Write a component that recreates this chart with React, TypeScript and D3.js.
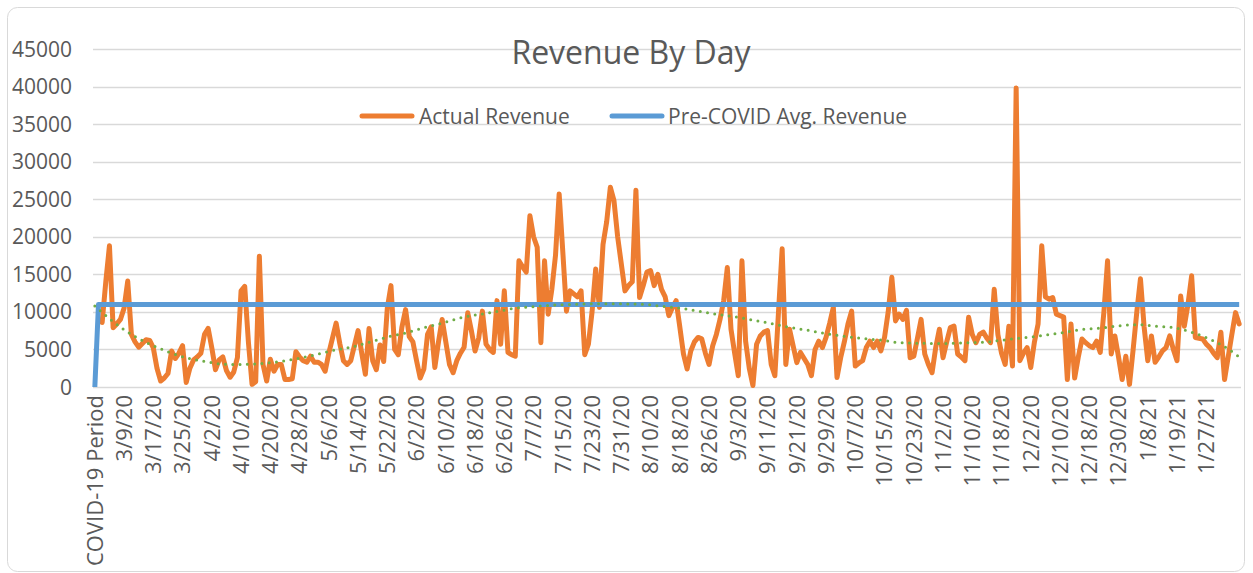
import React from 'react';
import * as d3 from 'd3';

// tick labels shown on the category axis (every 8th category)
const xTickLabels = [
  'COVID-19 Period', '3/9/20', '3/17/20', '3/25/20', '4/2/20', '4/10/20', '4/20/20', '4/28/20',
  '5/6/20', '5/14/20', '5/22/20', '6/2/20', '6/10/20', '6/18/20', '6/26/20', '7/7/20',
  '7/15/20', '7/23/20', '7/31/20', '8/10/20', '8/18/20', '8/26/20', '9/3/20', '9/11/20',
  '9/21/20', '9/29/20', '10/7/20', '10/15/20', '10/23/20', '11/2/20', '11/10/20', '11/18/20',
  '12/2/20', '12/10/20', '12/18/20', '12/30/20', '1/8/21', '1/19/21', '1/27/21',
];
const labelStep = 8;

const yTicks = [0, 5000, 10000, 15000, 20000, 25000, 30000, 35000, 40000, 45000];

// daily revenue, one value per category (first two categories empty)
const actualRevenue: (number | null)[] = [
  null, null, 8600, 14000, 18800, 7900, 8400, 9000, 10500, 14100, // 0
  7000, 6000, 5300, 5800, 6300, 6200, 5200, 2500, 800, 1200, // 10
  1800, 4800, 3800, 4500, 5500, 600, 2500, 3600, 4000, 4500, // 20
  7000, 7800, 5200, 2300, 3600, 4000, 2200, 1300, 2000, 3900, // 30
  12800, 13400, 6000, 350, 700, 17400, 3000, 800, 3700, 2100, // 40
  3000, 3000, 1000, 1000, 1100, 4700, 4000, 3500, 3300, 4100, // 50
  3300, 3300, 3000, 2100, 4500, 6500, 8500, 5800, 3500, 3000, // 60
  3500, 5500, 7500, 4500, 1700, 7800, 3500, 2300, 5600, 3400, // 70
  10500, 13500, 5000, 4300, 8000, 10300, 6700, 6000, 3500, 1200, // 80
  2400, 7000, 8000, 2600, 6000, 9000, 6000, 3000, 1900, 3500, // 90
  4500, 5300, 9900, 7500, 4800, 6500, 10100, 5700, 5000, 4600, // 100
  11500, 5700, 12800, 4600, 4300, 4100, 16800, 16000, 15300, 22800, // 110
  20000, 18600, 5900, 16800, 9700, 13000, 17500, 25700, 18000, 10100, // 120
  12800, 12400, 12000, 12800, 4300, 5700, 10000, 15700, 10600, 19000, // 130
  22000, 26600, 24800, 20000, 16400, 12800, 13500, 14000, 26200, 11900, // 140
  13500, 15300, 15500, 13500, 15000, 13000, 12000, 9500, 10600, 11500, // 150
  8000, 4400, 2400, 4800, 6000, 6600, 6400, 4500, 3000, 5500, // 160
  7000, 9000, 11500, 15900, 7700, 4500, 1500, 16800, 6100, 2500, // 170
  200, 5700, 6800, 7300, 7500, 3000, 1500, 10000, 18400, 3000, // 180
  7700, 5500, 3250, 4600, 3800, 3000, 1500, 5000, 6100, 5250, // 190
  6600, 8500, 10600, 1250, 3900, 6000, 8400, 10100, 2800, 3200, // 200
  3500, 5250, 6100, 5250, 6100, 4800, 6600, 10000, 14600, 8800, // 210
  9700, 9000, 10200, 3900, 4100, 6500, 9000, 4400, 3000, 1900, // 220
  5250, 7700, 3900, 6000, 7900, 8100, 4400, 4000, 3500, 9300, // 230
  7000, 5900, 7000, 7300, 6500, 5900, 13000, 7000, 4500, 3000, // 240
  8100, 2800, 39800, 3500, 4500, 5250, 2600, 6000, 8400, 18800, // 250
  12000, 11700, 11900, 9700, 9500, 9300, 1000, 8400, 1200, 4000, // 260
  6400, 5900, 5500, 5250, 6100, 4600, 10000, 16800, 4400, 6800, // 270
  4000, 1000, 4100, 350, 5000, 10000, 14400, 8000, 3500, 6800, // 280
  3300, 4000, 4800, 5250, 6800, 5000, 3500, 12100, 8100, 11000, // 290
  14800, 6600, 6500, 6400, 5700, 5250, 4500, 3900, 7300, 1000, // 300
  4000, 7000, 9900, 8400, // 310
];

// pre-covid average: 0 in the first category, flat afterwards
const preCovidFirst = 0;
const preCovidAvg = 11000;

// trendline at these category indices
const trendAt = [
  0, 5, 10, 15, 20, 25, 30, 35, 40, 45, 50, 55, 60, 65, 70, 75, 80, 85, 90, 95,
  100, 105, 110, 115, 120, 125, 130, 140, 150, 156, 160, 165, 170, 175, 180, 185, 190, 195, 200, 205,
  210, 215, 220, 230, 240, 245, 250, 255, 260, 265, 270, 275, 280, 285, 290, 295, 300, 305, 310, 313,
];
const trendValues = [
  10800, 8700, 7000, 5700, 4700, 3900, 3400, 3050, 3000, 3100, 3350, 3750, 4250, 4850, 5300, 5950, 6650, 7200, 7900, 8500,
  9200, 9650, 10050, 10500, 10700, 10900, 11000, 11100, 11000, 10700, 10500, 10100, 9700, 9350, 8900, 8450, 7950, 7550, 7100, 6750,
  6450, 6250, 5900, 5800, 5900, 6050, 6350, 6600, 6900, 7250, 7650, 7850, 8150, 8300, 8100, 7900, 7300, 6350, 5050, 4000,
];

const W = 1253;
const H = 573;
const FONT = '"Open Sans", "Noto Sans", sans-serif';
const TEXT = '#595959';
const ORANGE = '#ED7D31';
const BLUE = '#5B9BD5';
const GREEN = '#70AD47';

const App: React.FC = () => {
  const n = actualRevenue.length;
  const x = d3.scaleBand<number>().domain(d3.range(n)).range([93, 1241]);
  const px = (i: number) => (x(i) as number) + x.bandwidth() / 2;
  const y = d3.scaleLinear().domain([0, 45000]).range([387, 49]);

  const actualLine = d3
    .line<number | null>()
    .defined((d) => d != null)
    .x((_, i) => px(i))
    .y((d) => y(d as number));

  const blueSeries = d3.range(n).map((i) => (i === preCovidFirst ? 0 : preCovidAvg));
  const blueLine = d3
    .line<number>()
    .x((_, i) => px(i))
    .y((d) => y(d));

  const trendLine = d3
    .line<number>()
    .x((_, k) => px(trendAt[k]))
    .y((d) => y(d))
    .curve(d3.curveMonotoneX);

  return (
    <svg
      width={W}
      height={H}
      style={{ position: 'absolute', left: 0, top: 0, background: '#fff' }}
      fontFamily={FONT}
    >
      <rect x={7.5} y={7.5} width={1237} height={564} rx={10} fill="#fff" stroke="#D9D9D9" />

      {/* gridlines */}
      <g>
        {yTicks.map((t) => (
          <line key={t} x1={93} x2={1241} y1={Math.round(y(t)) + 0.5} y2={Math.round(y(t)) + 0.5} stroke="#D9D9D9" strokeWidth={1.3} />
        ))}
      </g>

      {/* y tick labels */}
      <g fontSize={21} fill={TEXT} textAnchor="end">
        {yTicks.map((t) => (
          <text key={t} x={72} y={y(t)} dy="0.36em">
            {t}
          </text>
        ))}
      </g>

      {/* x tick labels */}
      <g fontSize={22} fill={TEXT} textAnchor="end">
        {xTickLabels.map((lab, k) => (
          <text key={lab} transform={`translate(${px(k * labelStep)},395) rotate(-90)`} dy="0.36em">
            {lab}
          </text>
        ))}
      </g>

      {/* title */}
      <text x={631} y={64} textAnchor="middle" fontSize={32} fill={TEXT}>
        Revenue By Day
      </text>

      {/* legend */}
      <g fontSize={21} fill={TEXT}>
        <line x1={362} x2={412} y1={116} y2={116} stroke={ORANGE} strokeWidth={5} strokeLinecap="round" />
        <text x={419} y={116} dy="0.36em">Actual Revenue</text>
        <line x1={612} x2={662} y1={116} y2={116} stroke={BLUE} strokeWidth={5} strokeLinecap="round" />
        <text x={668} y={116} dy="0.36em">Pre-COVID Avg. Revenue</text>
      </g>

      {/* series */}
      <path d={actualLine(actualRevenue) || ''} fill="none" stroke={ORANGE} strokeWidth={5} strokeLinejoin="round" strokeLinecap="round" />
      <path d={blueLine(blueSeries) || ''} fill="none" stroke={BLUE} strokeWidth={5} strokeLinejoin="round" />
      <path
        d={trendLine(trendValues) || ''}
        fill="none"
        stroke={GREEN}
        strokeWidth={3}
        strokeLinecap="round"
        strokeDasharray="0 7.3"
      />
    </svg>
  );
};

export default App;
